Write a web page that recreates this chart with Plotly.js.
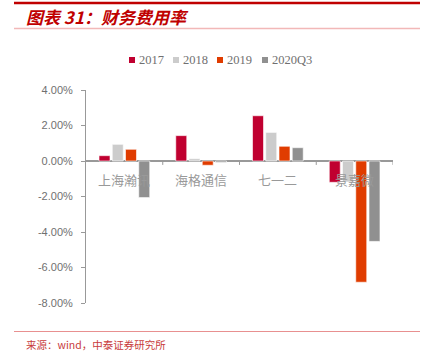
<!DOCTYPE html>
<html><head><meta charset="utf-8">
<script src="https://cdn.plot.ly/plotly-3.0.1.min.js"></script>
<style>html,body{margin:0;padding:0;background:#fff;}#chart{width:429px;height:352px;}</style>
</head><body><div id="chart"></div>
<script>
const categories = ["上海瀚讯", "海格通信", "七一二", "景嘉微"];
const seriesNames = ["2017", "2018", "2019", "2020Q3"];
const v2017 = [0.30, 1.43, 2.55, -1.20];
const v2018 = [0.94, 0.13, 1.61, -1.18];
const v2019 = [0.66, -0.24, 0.83, -6.83];
const v2020Q3 = [-2.06, -0.08, 0.75, -4.53];
const colors = ["#C00030", "#CCCCCC", "#E03C00", "#909090"];
const yTicks = [4, 2, 0, -2, -4, -6, -8];

const allVals = [v2017, v2018, v2019, v2020Q3];
const traces = allVals.map((vals, i) => ({
  type: "bar", name: seriesNames[i], x: categories, y: vals,
  marker: {color: colors[i], line: {color: "#ffffff", width: 0.6}},
  hoverinfo: "skip", showlegend: false
}));

const L = 86, R = 393, T = 90, B = 303;
const px = x => (x - L) / (R - L);
const py = y => (B - y) / (B - T);

const shapes = [
  {type: "line", xref: "paper", yref: "paper", x0: px(14), x1: px(420), y0: py(3), y1: py(3), line: {color: "#C00000", width: 2.5}},
  {type: "line", xref: "paper", yref: "paper", x0: px(14), x1: px(420), y0: py(28.5), y1: py(28.5), line: {color: "#F2B8B8", width: 1.5}},
  {type: "line", xref: "paper", yref: "paper", x0: px(14), x1: px(420), y0: py(331.5), y1: py(331.5), line: {color: "#E89090", width: 1}}
];
// category boundary ticks on zero line
for (let k = 1; k <= categories.length; k++) {
  shapes.push({type: "line", xref: "x", yref: "y", x0: k - 0.5, x1: k - 0.5, y0: 0, y1: -0.22, line: {color: "#999999", width: 1}});
}

const annotations = categories.map((c, i) => ({
  x: c, y: 0, xref: "x", yref: "y", text: c, showarrow: false,
  yanchor: "top", yshift: -7,
  font: {family: "Noto Sans CJK SC", size: 13, color: "#999999"}
}));
annotations.push({
  xref: "paper", yref: "paper", x: px(24), y: py(17), xanchor: "left", yanchor: "middle",
  text: "<b><i>图表 31：财务费用率</i></b>", showarrow: false,
  font: {family: "Noto Sans CJK SC", size: 17, color: "#C00000"}
});
annotations.push({
  xref: "paper", yref: "paper", x: px(24), y: py(344), xanchor: "left", yanchor: "middle",
  text: "来源：wind，中泰证券研究所", showarrow: false,
  font: {family: "Noto Sans CJK SC", size: 10.5, color: "#C83C3C"}
});

// custom legend
const legX = [129, 173, 217, 262];
seriesNames.forEach((n, i) => {
  shapes.push({type: "rect", xref: "paper", yref: "paper", x0: px(legX[i]), x1: px(legX[i] + 6), y0: py(57), y1: py(63), fillcolor: colors[i], line: {width: 0}});
  annotations.push({xref: "paper", yref: "paper", x: px(legX[i] + 8), y: py(60), xanchor: "left", yanchor: "middle",
    text: n, showarrow: false, font: {family: "Liberation Serif", size: 12.5, color: "#707070"}});
});

const layout = {
  width: 429, height: 352,
  margin: {l: L, r: 429 - R, t: T, b: 352 - B, pad: 0},
  paper_bgcolor: "#fff", plot_bgcolor: "#fff",
  barmode: "group", bargap: 0.31, bargroupgap: 0.17,
  showlegend: false,
  xaxis: {showticklabels: false, showgrid: false, zeroline: false, showline: false, ticks: "", range: [-0.5, 3.5], fixedrange: true},
  yaxis: {range: [-8, 4], tickvals: yTicks, ticktext: yTicks.map(v => v.toFixed(2) + "%"),
    showgrid: false, zeroline: true, zerolinecolor: "#999999", zerolinewidth: 1.2,
    showline: true, linecolor: "#999999", linewidth: 1, ticks: "outside", ticklen: 4, tickcolor: "#999999",
    tickfont: {family: "Liberation Sans", size: 11, color: "#707070"}, ticklabelstandoff: 6},
  shapes: shapes, annotations: annotations
};
Plotly.newPlot("chart", traces, layout, {displayModeBar: false, staticPlot: true});
</script></body></html>
